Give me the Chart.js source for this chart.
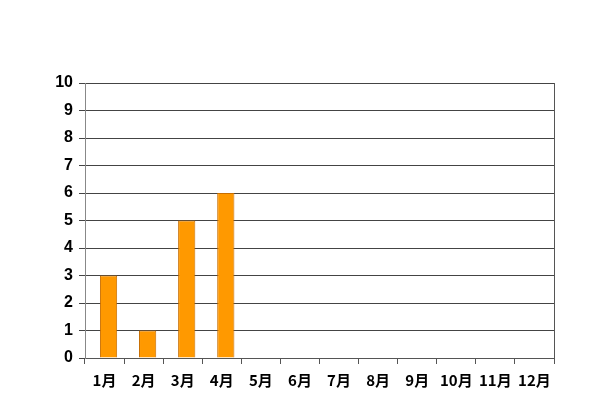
<!DOCTYPE html>
<html>
<head>
<meta charset="utf-8">
<script src="https://cdn.jsdelivr.net/npm/chart.js@4/dist/chart.umd.min.js"></script>
<style>
  html, body { margin: 0; padding: 0; background: #fff; }
  #wrap { width: 600px; height: 413px; }
</style>
</head>
<body>
<div id="wrap"><canvas id="c"></canvas></div>
<script>
const months = ['1月', '2月', '3月', '4月', '5月', '6月', '7月', '8月', '9月', '10月', '11月', '12月'];
const counts = [3, 1, 5, 6, null, null, null, null, null, null, null, null];
const spacer = months.map(() => null); // empty slot so the bars sit right of centre, as in the original
const yMin = 0;
const yMax = 10;

const rightBorder = {
  id: 'rightBorder',
  afterDraw(chart) {
    const { ctx, chartArea } = chart;
    ctx.save();
    ctx.strokeStyle = '#555';
    ctx.lineWidth = 1;
    ctx.beginPath();
    ctx.moveTo(Math.round(chartArea.right) + 0.5, chartArea.top);
    ctx.lineTo(Math.round(chartArea.right) + 0.5, chartArea.bottom);
    ctx.stroke();
    ctx.restore();
  }
};

new Chart(document.getElementById('c'), {
  type: 'bar',
  data: {
    labels: months,
    datasets: [
      { data: spacer },
      {
        data: counts,
        backgroundColor: '#ff9900',
        borderColor: '#c86e00',
        borderWidth: { left: 1, right: 1, top: 1, bottom: 0 }
      }
    ]
  },
  options: {
    responsive: true,
    maintainAspectRatio: false,
    animation: false,
    datasets: { bar: { categoryPercentage: 0.41, barPercentage: 2.15 } },
    layout: { padding: { top: 83, right: 46, bottom: 0, left: 0 } },
    plugins: { legend: { display: false }, tooltip: { enabled: false } },
    scales: {
      x: {
        grid: { offset: true, drawOnChartArea: false, drawTicks: true, tickLength: 6, color: '#555' },
        border: { color: '#555' },
        ticks: { color: '#000', padding: 7, font: { family: 'Noto Sans CJK JP', size: 15, weight: 'bold' } },
        afterFit(scale) { scale.height = 55; }
      },
      y: {
        min: yMin,
        max: yMax,
        ticks: { stepSize: 1, color: '#000', padding: 6, font: { family: 'Liberation Sans', size: 16, weight: 'bold' } },
        grid: { color: '#444', tickLength: 6 },
        border: { color: '#888' },
        afterFit(scale) { scale.width = 85; }
      }
    }
  },
  plugins: [rightBorder]
});
</script>
</body>
</html>
